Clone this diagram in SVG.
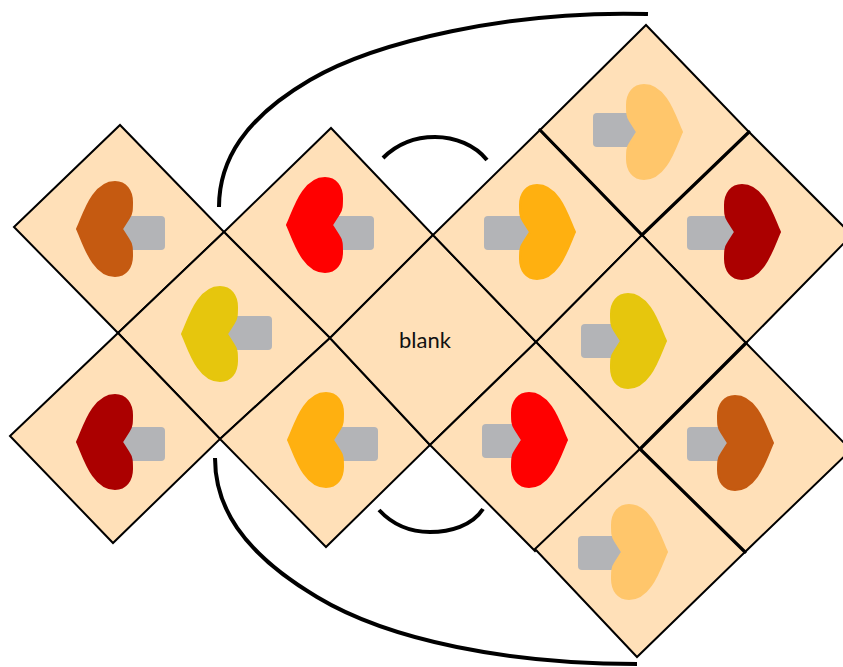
<svg xmlns="http://www.w3.org/2000/svg" width="843" height="667" viewBox="0 0 843 667">
<style>
.t{fill:#ffe0b8;stroke:#000;stroke-width:2;stroke-linejoin:miter}
.r{fill:#b3b4b7}
.c{fill:none;stroke:#000;stroke-width:4;stroke-linecap:butt}
.s{fill:none;stroke:#000;stroke-width:3.2;stroke-linecap:round}
.label{font-family:"Lato","Noto Sans",sans-serif;font-size:22px;fill:#111}
use{stroke-width:2;stroke-linejoin:round}
.brown{fill:#c55a11;stroke:#c55a11}
.red{fill:#f00;stroke:#f00}
.yellow{fill:#e6c60d;stroke:#e6c60d}
.darkred{fill:#ab0000;stroke:#ab0000}
.orange{fill:#ffb010;stroke:#ffb010}
.light{fill:#ffc66b;stroke:#ffc66b}
</style>
<defs>
<path id="h" d="M-44,0C-38,-12 -29,-47 -6,-47C5,-47 11,-38 11,-27C11,-20 11,-15 8,-11L1,0L8,11C11,15 11,20 11,27C11,38 5,47 -6,47C-29,47 -38,12 -44,0Z"/>
</defs>
<rect width="843" height="667" fill="#fff"/>
<g id="tile-brown-left"><polygon class="t" points="14,227 120,125 224,232 118,333"/><rect class="r" x="118" y="216" width="47" height="34" rx="4"/><use href="#h" x="121" y="229" class="brown"/></g>
<g id="tile-red-top"><polygon class="t" points="224,232 331,128 433,235 330,338"/><rect class="r" x="328" y="216" width="46" height="34" rx="4"/><use href="#h" x="331" y="225" class="red"/></g>
<g id="tile-yellow-left"><polygon class="t" points="118,333 224,232 330,338 220,439"/><rect class="r" x="225" y="316" width="47" height="34" rx="4"/><use href="#h" x="226" y="334" class="yellow"/></g>
<g id="tile-darkred-left"><polygon class="t" points="10,436 118,333 220,439 113,543"/><rect class="r" x="118" y="427" width="47" height="34" rx="4"/><use href="#h" x="121" y="442" class="darkred"/></g>
<g id="tile-orange-bottom"><polygon class="t" points="220,439 330,338 430,445 326,547"/><rect class="r" x="330" y="427" width="48" height="34" rx="4"/><use href="#h" x="332" y="440" class="orange"/></g>
<g id="tile-blank"><polygon class="t" points="330,338 433,235 536,342 430,445"/><text class="label" x="425" y="348" text-anchor="middle">blank</text></g>
<g id="tile-orange-top"><polygon class="t" points="433,235 540,130 642,235 536,342"/><rect class="r" x="484" y="216" width="48" height="34" rx="4"/><use href="#h" transform="translate(531,232) scale(-1,1)" class="orange"/></g>
<g id="tile-lightorange-top"><polygon class="t" points="540,130 646,25 749,132 642,235"/><rect class="r" x="593" y="113" width="46" height="34" rx="4"/><use href="#h" transform="translate(638,132) scale(-1,1)" class="light"/></g>
<g id="tile-darkred-right"><polygon class="t" points="642,235 749,132 852,235 746,343"/><rect class="r" x="687" y="216" width="50" height="34" rx="4"/><use href="#h" transform="translate(736,232) scale(-1,1)" class="darkred"/></g>
<g id="tile-yellow-right"><polygon class="t" points="536,342 642,235 746,343 640,449"/><rect class="r" x="581" y="324" width="44" height="34" rx="4"/><use href="#h" transform="translate(622,341) scale(-1,1)" class="yellow"/></g>
<g id="tile-red-bottom"><polygon class="t" points="430,445 536,342 640,449 535,551"/><rect class="r" x="482" y="424" width="44" height="34" rx="4"/><use href="#h" transform="translate(523,440) scale(-1,1)" class="red"/></g>
<g id="tile-brown-right"><polygon class="t" points="640,449 746,343 851,450 745,552"/><rect class="r" x="687" y="427" width="44" height="34" rx="4"/><use href="#h" transform="translate(729,443) scale(-1,1)" class="brown"/></g>
<g id="tile-lightorange-bottom"><polygon class="t" points="535,549 640,449 745,552 637,657"/><rect class="r" x="578" y="536" width="46" height="34" rx="4"/><use href="#h" transform="translate(623,552) scale(-1,1)" class="light"/></g>
<g id="seams">
<path class="s" d="M540,130L642,235L749,132"/>
<path class="s" d="M746,343L640,449L745,552"/>
</g>
<g id="connectors">
<path class="c" d="M219,207C219,160 245,118 310,80C375,42 510,10 648,14"/>
<path class="c" d="M215,458C215,505 240,551 317,597C390,641 510,664 637,664"/>
<path class="c" d="M383,158C397,144 415,137 435,137C455,137 475,145 487,160"/>
<path class="c" d="M379,510C392,524 410,532 430,532C450,532 472,526 483,509"/>
</g>
</svg>
